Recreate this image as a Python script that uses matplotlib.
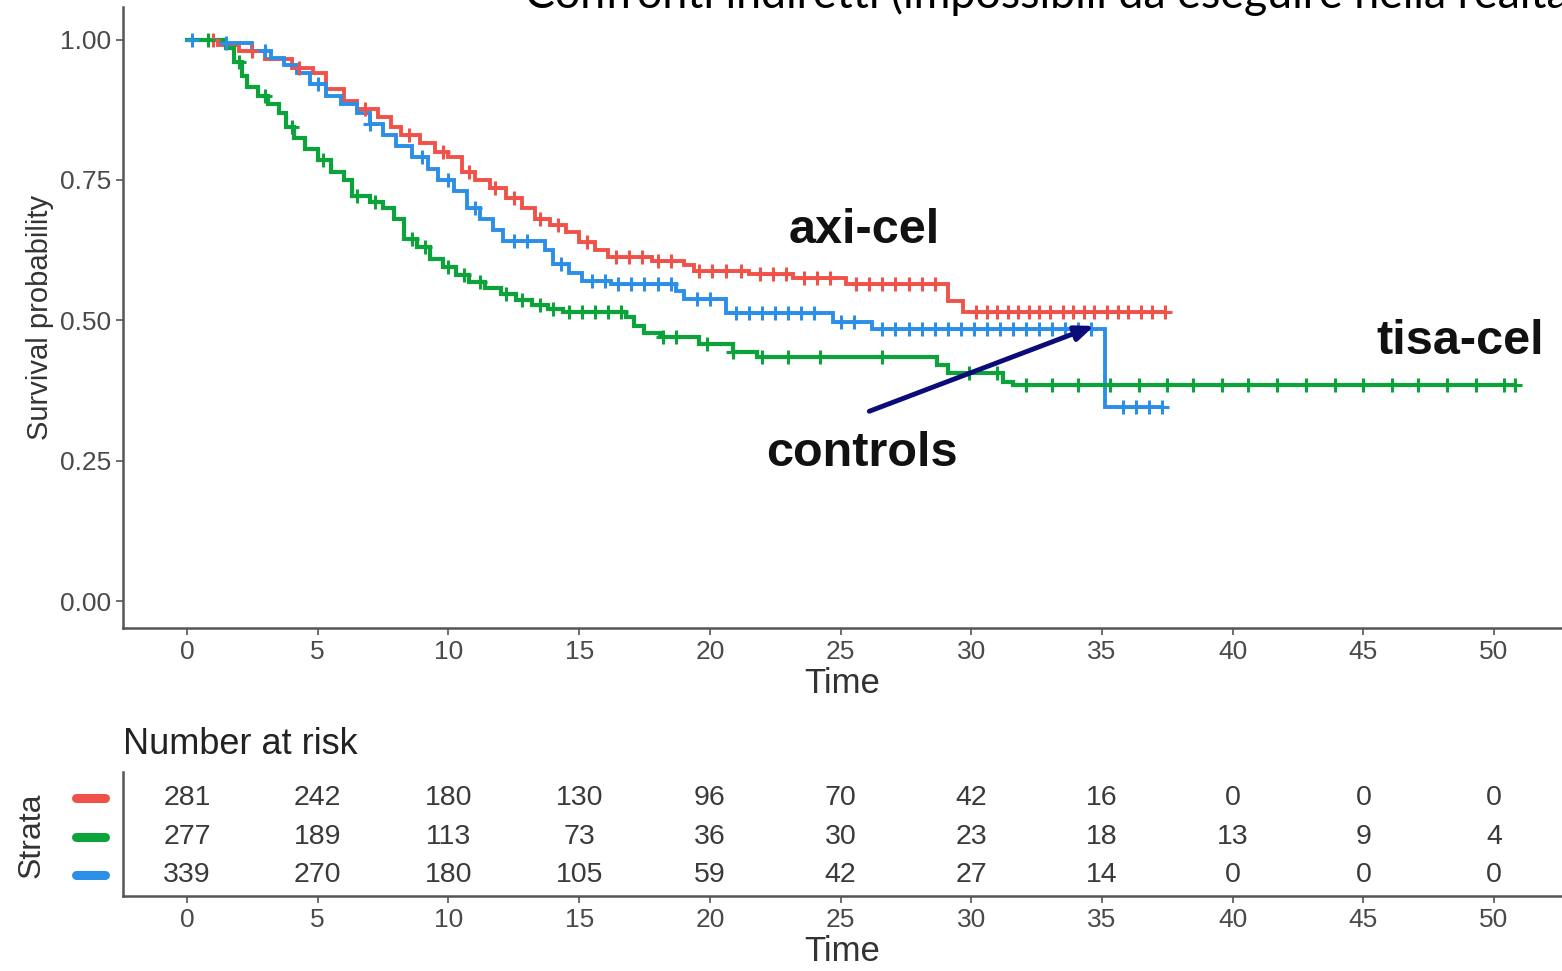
import numpy as np
import matplotlib
matplotlib.use("Agg")
import matplotlib.pyplot as plt
from matplotlib.transforms import blended_transform_factory

# ---------------- data ----------------
strata = ["axi-cel", "tisa-cel", "controls"]
colors = {"axi-cel": "#F0524A", "tisa-cel": "#0BA33A", "controls": "#2B8FE8"}

axi_t = [0, 1.2, 2.0, 3.0, 4.0, 4.8, 5.3, 6.0, 6.5, 7.3, 7.8, 8.2, 8.9, 9.5, 10.0, 10.5,
         11.0, 11.6, 12.2, 12.8, 13.3, 13.9, 14.5, 15.0, 15.6, 16.1, 17.8, 19.0, 19.4,
         21.5, 23.2, 25.2, 29.1, 29.7, 37.4]
axi_s = [1.0, 0.99, 0.98, 0.965, 0.95, 0.94, 0.912, 0.89, 0.876, 0.862, 0.845, 0.83, 0.815,
         0.80, 0.79, 0.765, 0.75, 0.735, 0.718, 0.70, 0.68, 0.67, 0.657, 0.64, 0.625, 0.612,
         0.605, 0.598, 0.588, 0.583, 0.575, 0.565, 0.535, 0.515, 0.515]
axi_cens = [1.0, 2.5, 4.3, 6.8, 8.5, 9.8, 10.8, 11.8, 12.5, 13.5, 14.2, 15.3, 16.4, 16.9,
            17.4, 18.0, 18.5, 19.6, 20.1, 20.6, 21.2, 21.9, 22.4, 22.9, 23.6, 24.1, 24.6,
            25.6, 26.1, 26.6, 27.1, 27.6, 28.1, 28.6, 30.2, 30.6, 31.0, 31.4, 31.8, 32.2,
            32.6, 33.0, 33.5, 33.9, 34.3, 34.7, 35.2, 35.6, 36.0, 36.5, 36.9, 37.4]

ctl_t = [0, 1.5, 2.5, 3.2, 3.7, 4.2, 4.7, 5.3, 5.9, 6.5, 7.0, 7.5, 8.0, 8.6, 9.2, 9.6, 10.2,
         10.7, 11.2, 11.7, 12.1, 13.7, 14.0, 14.6, 15.1, 16.2, 18.7, 19.0, 20.6, 24.7, 26.2,
         35.1, 37.3]
ctl_s = [1.0, 0.993, 0.98, 0.968, 0.955, 0.94, 0.92, 0.90, 0.885, 0.87, 0.85, 0.83, 0.81,
         0.79, 0.77, 0.75, 0.73, 0.70, 0.68, 0.66, 0.641, 0.625, 0.60, 0.585, 0.57, 0.565,
         0.553, 0.538, 0.513, 0.497, 0.485, 0.345, 0.345]
ctl_cens = [0.2, 1.5, 3.0, 5.0, 7.0, 9.0, 10.0, 11.0, 12.5, 13.0, 14.3, 15.5, 16.0, 16.5,
            17.0, 17.5, 18.0, 18.5, 19.5, 20.0, 21.0, 21.5, 22.0, 22.5, 23.0, 23.5, 24.0,
            25.0, 25.5, 26.6, 27.1, 27.6, 28.1, 28.6, 29.1, 29.6, 30.1, 30.6, 31.1, 31.6,
            32.1, 32.6, 33.1, 33.6, 34.1, 34.6, 35.8, 36.3, 36.8, 37.3]

tis_t = [0, 1.5, 1.8, 2.1, 2.3, 2.7, 3.1, 3.5, 3.8, 4.1, 4.5, 5.0, 5.5, 6.0, 6.3, 7.0, 7.5,
         7.9, 8.3, 8.8, 9.3, 9.8, 10.3, 10.8, 11.4, 12.0, 12.6, 13.2, 13.8, 14.4, 16.8,
         17.1, 17.5, 18.1, 19.6, 20.9, 21.8, 28.7, 29.1, 31.2, 31.6, 50.8]
tis_s = [1.0, 0.985, 0.96, 0.935, 0.915, 0.90, 0.885, 0.87, 0.845, 0.825, 0.805, 0.785,
         0.765, 0.75, 0.722, 0.71, 0.70, 0.68, 0.645, 0.63, 0.61, 0.595, 0.58, 0.568, 0.558,
         0.547, 0.537, 0.528, 0.52, 0.515, 0.505, 0.49, 0.478, 0.47, 0.458, 0.443, 0.434,
         0.42, 0.406, 0.39, 0.384, 0.384]
tis_cens = [0.8, 2.0, 3.0, 4.0, 5.2, 6.5, 7.2, 8.6, 9.1, 10.0, 10.6, 11.2, 12.2, 12.8,
            13.5, 14.0, 14.6, 15.1, 15.6, 16.1, 16.6, 18.2, 18.7, 19.9, 20.9, 22.0, 23.0,
            24.2, 26.6, 29.9, 31.0, 32.1, 33.1, 34.1, 35.3, 36.4, 37.5, 38.5, 39.6, 40.6,
            41.7, 42.8, 43.9, 45.0, 46.1, 47.1, 48.2, 49.3, 50.4, 50.8]

risk_times = [0, 5, 10, 15, 20, 25, 30, 35, 40, 45, 50]
risk_axi = [281, 242, 180, 130, 96, 70, 42, 16, 0, 0, 0]
risk_tis = [277, 189, 113, 73, 36, 30, 23, 18, 13, 9, 4]
risk_ctl = [339, 270, 180, 105, 59, 42, 27, 14, 0, 0, 0]

title = "Confronti indiretti (impossibili da eseguire nella realtà)"

# ---------------- figure ----------------
plt.rcParams['font.family'] = ['Liberation Sans', 'DejaVu Sans']
W, H = 1562, 971
fig = plt.figure(figsize=(W / 100, H / 100), dpi=100)

def fx(px):
    return px / W

def fy(py):
    return 1 - py / H

spine_c = "#555555"
tick_c = "#555555"
lab_c = "#4a4a4a"

ax = fig.add_axes([fx(123), fy(628), 1 - fx(123), fy(7) - fy(628)])
ax.set_xlim(-2.45, 52.6)
ax.set_ylim(-0.048, 1.058)

def step_val(ts, ss, x):
    idx = np.searchsorted(ts, x, side='right') - 1
    idx = np.clip(idx, 0, len(ss) - 1)
    return np.asarray(ss)[idx]

curves = [("axi-cel", axi_t, axi_s, axi_cens, 2.8),
          ("controls", ctl_t, ctl_s, ctl_cens, 2.8),
          ("tisa-cel", tis_t, tis_s, tis_cens, 3.0)]
for name, t, s, c, lw in curves:
    ax.step(t, s, where='post', color=colors[name], lw=lw, zorder=3, solid_joinstyle='miter')
    cy = step_val(np.array(t), s, np.array(c))
    ax.plot(c, cy, ls='none', marker='+', ms=10, mew=2.2, color=colors[name], zorder=4)

for sp in ['top', 'right']:
    ax.spines[sp].set_visible(False)
for sp in ['left', 'bottom']:
    ax.spines[sp].set_color(spine_c)
    ax.spines[sp].set_linewidth(1.8)

ax.set_xticks(risk_times)
ax.set_yticks([0, 0.25, 0.5, 0.75, 1.0])
ax.set_yticklabels(["0.00", "0.25", "0.50", "0.75", "1.00"])
ax.tick_params(axis='both', colors=tick_c, labelcolor=lab_c, labelsize=19, length=5, width=1.2)
ax.set_xlabel("Time", fontsize=25, color="#333333", labelpad=2)
ax.set_ylabel("Survival probability", fontsize=21, color="#333333", labelpad=4)

ax.text(25.9, 0.66, "axi-cel", fontsize=35, fontweight='bold', ha='center', va='center', color='#111111')
ax.text(48.7, 0.463, "tisa-cel", fontsize=35, fontweight='bold', ha='center', va='center', color='#111111')
ax.text(25.8, 0.262, "controls", fontsize=35, fontweight='bold', ha='center', va='center', color='#111111')
ax.annotate("", xy=(34.7, 0.49), xytext=(26.1, 0.338),
            arrowprops=dict(arrowstyle='-|>,head_length=1.1,head_width=0.45', color='#0B0B7A', lw=3.5,
                            shrinkA=0, shrinkB=0), zorder=5)

# title (cut off at top and right in the original)
fig.text(fx(525), fy(8), title, fontsize=32.2, family=['Lato', 'DejaVu Sans'],
         ha='left', va='baseline', color='black')

# ---------------- risk table ----------------
rax = fig.add_axes([fx(123), fy(896), 1 - fx(123), fy(772) - fy(896)])
rax.set_xlim(-2.45, 52.6)
rax.set_ylim(0.455, 3.675)
rows = [(3, risk_axi, "axi-cel"), (2, risk_tis, "tisa-cel"), (1, risk_ctl, "controls")]
for yv, vals, name in rows:
    for tx, v in zip(risk_times, vals):
        rax.text(tx, yv, str(v), ha='center', va='center', fontsize=20.5, color='#3a3a3a')
    tr = blended_transform_factory(rax.transAxes, rax.transData)
    rax.plot([-0.0325, -0.0125], [yv, yv], transform=tr, color=colors[name], lw=6.5,
             solid_capstyle='round', clip_on=False)
for sp in ['top', 'right']:
    rax.spines[sp].set_visible(False)
for sp in ['left', 'bottom']:
    rax.spines[sp].set_color(spine_c)
    rax.spines[sp].set_linewidth(1.8)
rax.set_xticks(risk_times)
rax.set_yticks([])
rax.tick_params(axis='x', colors=tick_c, labelcolor=lab_c, labelsize=19, length=5, width=1.2)
rax.set_xlabel("Time", fontsize=25, color="#333333", labelpad=2)
fig.text(fx(32), fy(835), "Strata", rotation=90, fontsize=23, ha='center', va='center', color='#333333')
fig.text(fx(123), fy(744), "Number at risk", fontsize=26, ha='left', va='center', color='#222222')

fig.savefig("out.png", dpi=100)
